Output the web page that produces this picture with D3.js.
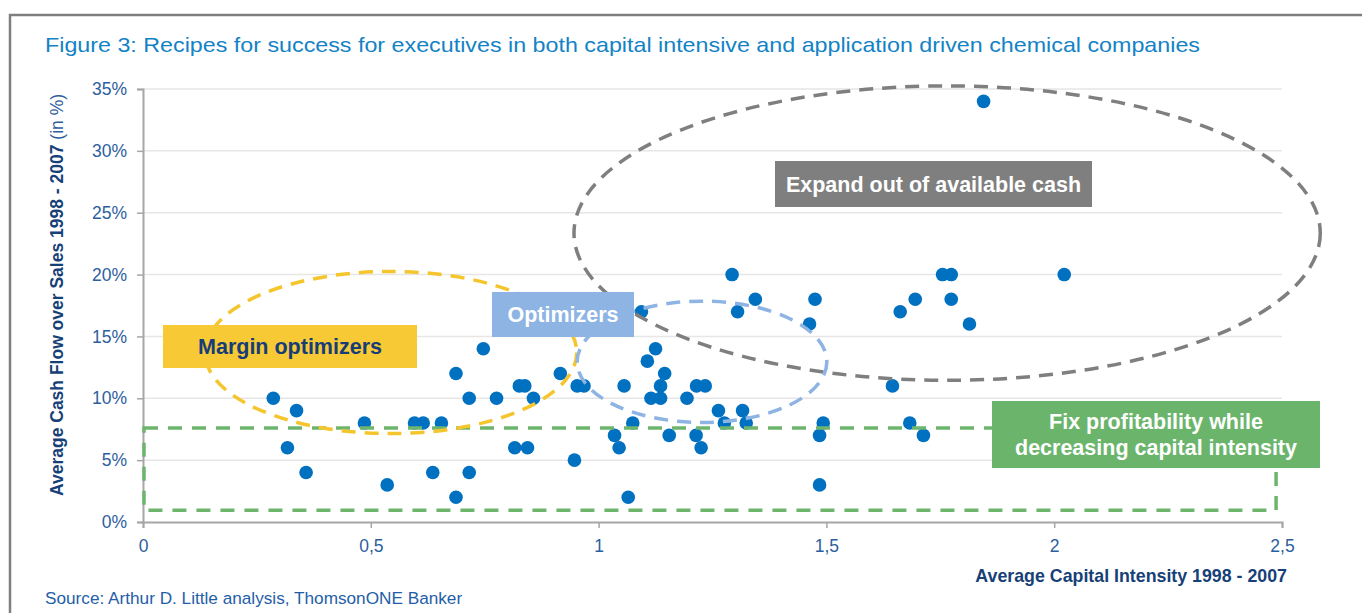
<!DOCTYPE html>
<html><head><meta charset="utf-8">
<script src="https://cdn.jsdelivr.net/npm/d3@7"></script>
<style>
html,body{margin:0;padding:0;background:#fff;}
svg text{font-family:"Liberation Sans",Arial,sans-serif;}
</style></head>
<body><svg id="c" width="1362" height="613"></svg>
<script>
// Data: average capital intensity (x) vs average cash flow over sales in % (y)
const capitalIntensity = [0.286,0.317,0.337,0.358,0.486,0.536,0.596,0.615,0.636,0.655,0.687,0.687,0.716,0.716,0.747,0.776,0.816,0.826,0.838,0.844,0.857,0.916,0.947,0.953,0.968,1.035,1.045,1.056,1.065,1.075,1.094,1.107,1.115,1.125,1.136,1.136,1.145,1.155,1.194,1.215,1.234,1.214,1.225,1.263,1.276,1.293,1.305,1.316,1.324,1.344,1.463,1.475,1.485,1.485,1.493,1.645,1.662,1.683,1.695,1.713,1.755,1.774,1.774,1.814,1.845,2.022];
const cashFlowPct = [10,6,9,4,8,3,8,8,4,8,12,2,10,4,14,10,6,11,11,6,10,12,5,11,11,7,6,11,2,8,17,13,10,14,10,11,12,7,10,11,11,7,6,9,8,20,17,9,8,18,16,18,7,3,8,11,17,8,18,7,20,20,18,16,34,20];
const xTicks = [0,0.5,1,1.5,2,2.5];
const xTickLabels = ["0","0,5","1","1,5","2","2,5"];
const yTicks = [0,5,10,15,20,25,30,35];
const yTickLabels = ["0%","5%","10%","15%","20%","25%","30%","35%"];
const titleText = "Figure 3: Recipes for success for executives in both capital intensive and application driven chemical companies";
const xTitle = "Average Capital Intensity 1998 - 2007";
const yTitleBold = "Average Cash Flow over Sales 1998 - 2007";
const yTitleNormal = " (in %)";
const sourceText = "Source: Arthur D. Little analysis, ThomsonONE Banker";
// annotation ellipses in data units: [cx, cy, rx, ry]
const ellipseNames = ["expand","margin","optim"];
const ellipseGeom = [[1.765,23.35,0.819,11.9],[0.544,13.7,0.408,6.55],[1.227,12.95,0.274,4.9]];

const svg = d3.select("#c");
const x = d3.scaleLinear().domain([0,2.5]).range([143,1282]);
const y = d3.scaleLinear().domain([0,35]).range([522,89]);

// frame
svg.append("path").attr("d","M10,613 L10,15 L1362,15").attr("fill","none").attr("stroke","#7f7f7f").attr("stroke-width",2.5);

// title
svg.append("text").attr("x",45).attr("y",52).attr("font-size",21).attr("fill","#1383c6")
  .attr("textLength",1155).attr("lengthAdjust","spacingAndGlyphs").text(titleText);

// gridlines
svg.append("g").selectAll("line").data(yTicks.slice(1)).join("line")
  .attr("x1",x(0)).attr("x2",x(2.5)).attr("y1",d=>y(d)).attr("y2",d=>y(d))
  .attr("stroke","#e6e6e6").attr("stroke-width",1.5);

// axes
const yAxis = d3.axisLeft(y).tickValues(yTicks).tickFormat((d,i)=>yTickLabels[i]).tickSize(6).tickPadding(10);
const gy = svg.append("g").attr("transform",`translate(${x(0)},0)`).call(yAxis);
const xAxis = d3.axisBottom(x).tickValues(xTicks).tickFormat((d,i)=>xTickLabels[i]).tickSize(6).tickPadding(12);
const gx = svg.append("g").attr("transform",`translate(0,${y(0)})`).call(xAxis);
[gx,gy].forEach(g=>{
  g.select(".domain").attr("stroke","#a6a6a6").attr("stroke-width",2);
  g.selectAll(".tick line").attr("stroke","#a6a6a6").attr("stroke-width",1.5);
  g.selectAll(".tick text").attr("fill","#2d5e9e").attr("font-size",17.5).attr("font-family","Liberation Sans, Arial, sans-serif");
});

// axis titles
svg.append("text").attr("x",1287).attr("y",582).attr("text-anchor","end").attr("font-size",17.8)
  .attr("font-weight","bold").attr("fill","#173f78").text(xTitle);
const yt = svg.append("text").attr("transform","translate(63,295) rotate(-90)").attr("text-anchor","middle")
  .attr("font-size",17.5).attr("fill","#173f78");
yt.append("tspan").attr("font-weight","bold").text(yTitleBold);
yt.append("tspan").attr("fill","#2d5e9e").attr("font-weight","normal").text(yTitleNormal);

// source
svg.append("text").attr("x",45).attr("y",604).attr("font-size",17.2).attr("fill","#1f5ea8").text(sourceText);

// points
svg.append("g").selectAll("circle").data(capitalIntensity.map((v,i)=>[v,cashFlowPct[i]])).join("circle")
  .attr("cx",d=>x(d[0])).attr("cy",d=>y(d[1])).attr("r",6.8).attr("fill","#0070c0");

// green dashed rectangle
svg.append("rect").attr("x",x(0)+1).attr("y",y(7.6)).attr("width",x(2.487)-x(0)-1).attr("height",y(0.95)-y(7.6))
  .attr("fill","none").attr("stroke","#6db56d").attr("stroke-width",3.5).attr("stroke-dasharray","14,10");

// ellipses
const ellColors = {expand:"#7f7f7f",margin:"#f5c52e",optim:"#8db4e2"};
svg.append("g").selectAll("ellipse").data(ellipseGeom).join("ellipse")
  .attr("cx",d=>x(d[0])).attr("cy",d=>y(d[1]))
  .attr("rx",d=>x(d[2])-x(0)).attr("ry",d=>y(0)-y(d[3]))
  .attr("fill","none").attr("stroke",(d,i)=>ellColors[ellipseNames[i]])
  .attr("stroke-width",3.5).attr("stroke-dasharray","14,9");

// label boxes
function box(x0,y0,w,h,fill,lines,color,fs){
  svg.append("rect").attr("x",x0).attr("y",y0).attr("width",w).attr("height",h).attr("fill",fill);
  const n=lines.length, lh=fs*1.2;
  lines.forEach((t,i)=>{
    svg.append("text").attr("x",x0+w/2).attr("y",y0+h/2+(i-(n-1)/2)*lh).attr("dy","0.36em")
      .attr("text-anchor","middle").attr("font-size",fs).attr("font-weight","bold").attr("fill",color).text(t);
  });
}
box(775,161,317,46,"#7f7f7f",["Expand out of available cash"],"#ffffff",21.5);
box(163,325,254,43,"#f6c935",["Margin optimizers"],"#163d78",21.5);
box(492,292,142,45,"#8db4e2",["Optimizers"],"#ffffff",21.5);
box(992,401,328,67,"#6ab56b",["Fix profitability while","decreasing capital intensity"],"#ffffff",21.5);
</script></body></html>
